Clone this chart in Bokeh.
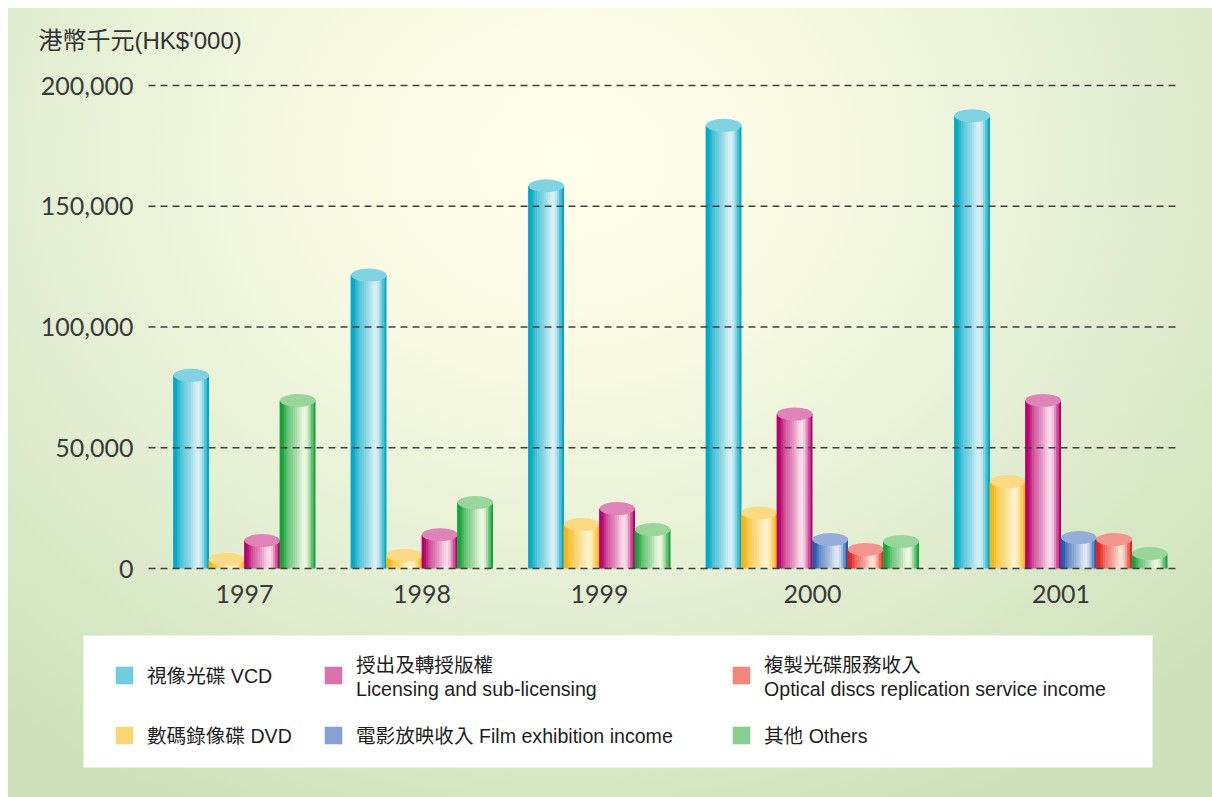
from bokeh.plotting import figure
from bokeh.models import ColumnDataSource, Legend, LegendItem, BoxAnnotation, Grid
from bokeh.core.properties import value
from bokeh.embed import file_html
from bokeh.resources import INLINE

# ---------------- data ----------------
years = ["1997", "1998", "1999", "2000", "2001"]
series_labels = [
    "視像光碟 VCD",
    "數碼錄像碟 DVD",
    "授出及轉授版權\nLicensing and sub-licensing",
    "電影放映收入 Film exhibition income",
    "複製光碟服務收入\nOptical discs replication service income",
    "其他 Others",
]
vcd = [80000, 121500, 158500, 183500, 187500]
dvd = [3800, 5400, 18200, 23000, 36000]
licensing = [11600, 14000, 24800, 64000, 69600]
film = [None, None, None, 12000, 12800]
replication = [None, None, None, 7900, 12000]
others = [69600, 27300, 16100, 11200, 6200]
y_ticks = [0, 50000, 100000, 150000, 200000]
y_tick_labels = ["0", "50,000", "100,000", "150,000", "200,000"]
title_text = "港幣千元(HK$'000)"

# ---------------- styles ----------------
dark = ["#00a8c6", "#f6b412", "#b5006c", "#2358ac", "#e4221b", "#15a238"]
light = ["#d8f0f5", "#fff4cf", "#fbdcea", "#e2e9f7", "#fde2d4", "#f0f8df"]
profile = [0.0, 0.05, 0.2, 0.35, 0.45, 0.52, 0.6, 0.68, 0.78, 0.88, 0.97, 1.0, 0.88, 0.65, 0.35, 0.02]

W, H = 1212, 797
UNIT = 35.5          # px per bar slot
X0_PX = 173          # px of first bar's left edge
Y0_PX = 568          # px of value 0
Y200_PX = 85         # px of value 200,000
K = (Y0_PX - Y200_PX) / 200000.0


def px2x(px):
    return (px - X0_PX) / UNIT


def px2y(py):
    return (Y0_PX - py) / K


def mix(c1, c2, t):
    a = [int(c1[i:i + 2], 16) for i in (1, 3, 5)]
    b = [int(c2[i:i + 2], 16) for i in (1, 3, 5)]
    return "#%02x%02x%02x" % tuple(int(round(a[j] + (b[j] - a[j]) * t)) for j in range(3))


series_values = [vcd, dvd, licensing, film, replication, others]

# slot layout: bars of a year side by side, one empty slot between years
bar_x = [[] for _ in series_values]
bar_top = [[] for _ in series_values]
group_centers = []
cursor = 0
for g in range(len(years)):
    start = cursor
    for s, vals in enumerate(series_values):
        v = vals[g]
        if v is None:
            continue
        bar_x[s].append(cursor + 0.5)
        bar_top[s].append(v)
        cursor += 1
    group_centers.append((start + cursor) / 2.0)
    cursor += 1

p = figure(width=W, height=H,
           x_range=(px2x(0), px2x(W)), y_range=(px2y(H), px2y(0)),
           output_backend="svg", toolbar_location=None, min_border=0,
           x_axis_location=None, y_axis_location=None, title=None,
           outline_line_color=None, tools="")
for gr in p.select(type=Grid):
    gr.visible = False
p.background_fill_alpha = 0
p.border_fill_alpha = 0
p.styles = {"background": (
    "linear-gradient(#ffffff, #ffffff) top left / 100% 8px no-repeat, "
    "linear-gradient(#ffffff, #ffffff) top left / 8px 100% no-repeat, "
    "radial-gradient(ellipse 72% 90% at 47% 20%, #fffeec 0%, #f9fae4 28%, #e6f0d5 58%, #cde2bb 100%)")}

NS = len(profile)
strip_renderers = []
for s in range(len(series_values)):
    xs, tops, ws, cols = [], [], [], []
    for bx, bt in zip(bar_x[s], bar_top[s]):
        for i, t in enumerate(profile):
            xs.append(bx - 0.5 + (i + 0.5) / NS)
            tops.append(bt)
            ws.append(1.35 / NS if i < NS - 1 else 1.0 / NS)
            cols.append(mix(dark[s], light[s], t))
    src = ColumnDataSource(dict(x=xs, top=tops, w=ws, c=cols))
    r = p.vbar(x="x", top="top", bottom=0, width="w", fill_color="c", line_color=None, source=src)
    strip_renderers.append(r)
    p.ellipse(x=bar_x[s], y=bar_top[s], width=1.0, height=13, height_units="screen",
              fill_color=mix(dark[s], light[s], 0.6), line_color=None)

# dashed grid lines (drawn over the bars)
gx0, gx1 = px2x(148), px2x(1178)
p.segment(x0=[gx0] * len(y_ticks), y0=y_ticks, x1=[gx1] * len(y_ticks), y1=y_ticks,
          line_color="#404040", line_width=1.4, line_dash="7 5")

# y tick labels
p.text(x=[px2x(133)] * len(y_ticks), y=y_ticks, text=y_tick_labels,
       text_align="right", text_baseline="middle", text_font=value("Lato"),
       text_font_size="25px", text_color="#3a3a3a")

# year labels
p.text(x=group_centers, y=[px2y(593)] * len(years), text=years,
       text_align="center", text_baseline="middle", text_font=value("Lato"),
       text_font_size="25px", text_color="#3a3a3a")

# unit title
p.text(x=[px2x(38)], y=[px2y(40)], text=[title_text], text_align="left", text_baseline="middle",
       text_font=value("Liberation Sans, Noto Sans CJK TC"), text_font_size="24px", text_color="#333333")

# legend panel
p.add_layout(BoxAnnotation(left=px2x(83), right=px2x(1152), top=px2y(635), bottom=px2y(767),
                           fill_color="white", fill_alpha=1.0, line_color=None))

legend_cols = [(0, 1, 113, 31), (2, 3, 322, 19), (4, 5, 730, 19)]
for a, b, lx, spacing in legend_cols:
    items = [LegendItem(label=series_labels[a], renderers=[strip_renderers[a]], index=5),
             LegendItem(label=series_labels[b], renderers=[strip_renderers[b]], index=5)]
    lg = Legend(items=items, location=(lx, 48), orientation="vertical",
                padding=0, margin=0, spacing=spacing,
                glyph_width=22, glyph_height=22, label_standoff=12,
                label_text_font="Liberation Sans, Noto Sans CJK TC",
                label_text_font_size="19.6px", label_text_color="#1e1e1e",
                background_fill_alpha=0, border_line_color=None)
    p.add_layout(lg, "center")

open("out.html", "w").write(file_html(p, INLINE))
